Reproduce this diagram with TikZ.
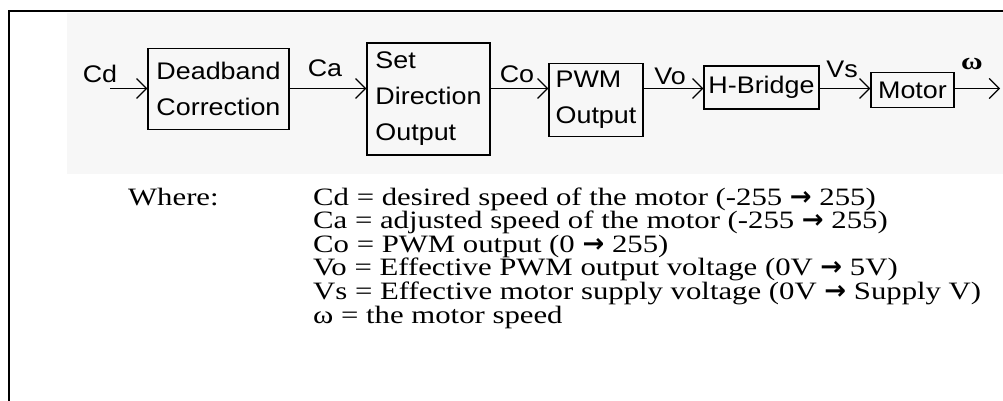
\documentclass[tikz,border=0pt]{standalone}
\usepackage{fontspec}
\setmainfont{Liberation Serif}
\newfontfamily\txtserif[FakeStretch=1.23]{Liberation Serif}
\newfontfamily\boxsans[FakeStretch=1.12]{Liberation Sans}
\newfontfamily\arrfont{DejaVu Sans}
\newcommand{\rarr}{{\arrfont\bfseries\fontsize{26}{23.6}\selectfont →}}
\usetikzlibrary{arrows.meta}
\tikzset{
  blk/.style={draw, line width=1.2pt, inner sep=3pt, align=left, font=\boxsans\fontsize{24}{36}\selectfont},
  sig/.style={font=\boxsans\fontsize{24}{28}\selectfont, inner sep=0pt, anchor=base},
  arr/.style={line width=1.2pt, -{Straight Barb[length=10pt,width=20pt,line width=1.2pt]}},
  txt/.style={font=\txtserif\fontsize{25}{23.6}\selectfont, inner sep=0pt, anchor=base west},
}
\begin{document}
\begin{tikzpicture}[x=1pt,y=-1pt]
\useasboundingbox (0,0) rectangle (1003,401);
\fill[black!3] (67,13) rectangle (1003,174);
\draw[line width=2pt] (9,401) -- (9,11) -- (1003,11);

\node[blk, minimum width=141pt, minimum height=81pt] (dc) at (218.5,89) {Deadband\\Correction};
\node[blk, minimum width=123pt, minimum height=112pt] (sdo) at (428.5,99) {Set\\Direction\\Output};
\node[blk, minimum width=94pt, minimum height=73pt] (pwm) at (596,100) {PWM\\Output};
\node[blk, minimum width=115pt, minimum height=43pt] (hb) at (761.5,87.5) {H-Bridge};
\node[blk, minimum width=83pt, minimum height=35pt] (mot) at (912.5,90) {Motor};

\coordinate (cdin) at (110,88.5);
\coordinate (wout) at (1000,88.5);

\draw[arr] (cdin) -- (dc.west |- cdin);
\draw[arr] (dc.east |- cdin) -- (sdo.west |- cdin);
\draw[arr] (sdo.east |- cdin) -- (pwm.west |- cdin);
\draw[arr] (pwm.east |- cdin) -- (hb.west |- cdin);
\draw[arr] (hb.east |- cdin) -- (mot.west |- cdin);
\draw[arr] (mot.east |- cdin) -- (wout);

\node[sig] (lcd) at (100,83) {Cd};
\node[sig] (lca) at (325,77) {Ca};
\node[sig] (lco) at (517,83) {Co};
\node[sig] (lvo) at (670,85) {Vo};
\node[sig] (lvs) at (842,78) {Vs};
\node[sig, font=\txtserif\bfseries\fontsize{24}{26}\selectfont] (lw) at (972,70) {ω};

\node[txt] (where) at (128,205) {Where:};
\node[txt] (t1) at (313,205) {Cd = desired speed of the motor (-255 \rarr{} 255)};
\node[txt] (t2) at (313,228.6) {Ca = adjusted speed of the motor (-255 \rarr{} 255)};
\node[txt] (t3) at (313,252.2) {Co = PWM output (0 \rarr{} 255)};
\node[txt] (t4) at (313,275.8) {Vo = Effective PWM output voltage (0V \rarr{} 5V)};
\node[txt] (t5) at (313,299.4) {Vs = Effective motor supply voltage (0V \rarr{} Supply V)};
\node[txt] (t6) at (313,323) {ω = the motor speed};
\end{tikzpicture}
\end{document}
